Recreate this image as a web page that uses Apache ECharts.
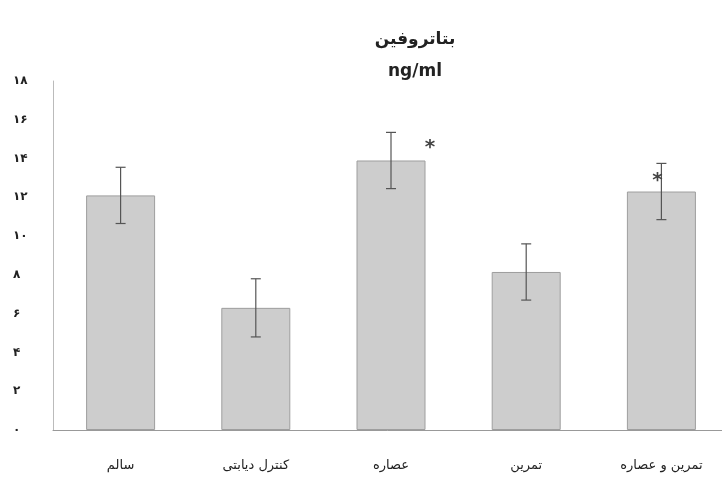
<!DOCTYPE html>
<html>
<head>
<meta charset="utf-8">
<script src="https://cdn.jsdelivr.net/npm/echarts@6/dist/echarts.min.js"></script>
<style>
  html, body { margin: 0; padding: 0; background: #fff; }
  #main { width: 722px; height: 479px; }
</style>
</head>
<body>
<div id="main"></div>
<script>
const categories = ['سالم', 'کنترل دیابتی', 'عصاره', 'تمرین', 'تمرین و عصاره'];
const means = [12.1, 6.3, 13.9, 8.15, 12.3];
const errors = [1.45, 1.5, 1.45, 1.45, 1.45];
const stars = [null, null, 14.7, null, 13.0];
const yTicks = [0, 2, 4, 6, 8, 10, 12, 14, 16, 18];

const faDigits = '۰۱۲۳۴۵۶۷۸۹';
const toFa = n => String(n).replace(/\d/g, d => faDigits[d]);

const chart = echarts.init(document.getElementById('main'));
const font = 'DejaVu Sans';

const errData = means.map((m, i) => [i, m - errors[i], m + errors[i]]);
const starData = stars.map((s, i) => [i, s]).filter(d => d[1] !== null);

chart.setOption({
  animation: false,
  title: {
    text: 'بتاتروفین\nng/ml',
    left: 410,
    textAlign: 'center',
    top: 19,
    textStyle: { fontFamily: font, fontSize: 17, fontWeight: 'bold', color: '#222', lineHeight: 32 }
  },
  grid: { left: 53, width: 676, top: 81, bottom: 49, outerBoundsMode: 'none' },
  xAxis: {
    type: 'category',
    data: categories,
    axisLine: { lineStyle: { color: '#999', width: 1 } },
    axisTick: { show: false },
    axisLabel: { fontFamily: font, fontSize: 13, color: '#222', margin: 29 }
  },
  yAxis: {
    type: 'value',
    min: yTicks[0],
    max: yTicks[yTicks.length - 1],
    interval: 2,
    splitLine: { show: false },
    axisLine: { show: true, lineStyle: { color: '#bbb', width: 1 } },
    axisTick: { show: false },
    axisLabel: { fontFamily: font, fontSize: 12, fontWeight: 'bold', color: '#222', margin: 40, align: 'left',
      formatter: v => toFa(v) }
  },
  series: [
    {
      type: 'bar',
      data: means,
      barWidth: 69,
      itemStyle: { color: '#cdcdcd', borderColor: '#9e9e9e', borderWidth: 1 }
    },
    {
      type: 'custom',
      data: errData,
      z: 5,
      renderItem: (params, api) => {
        const x = api.value(0);
        const lo = api.coord([x, api.value(1)]);
        const hi = api.coord([x, api.value(2)]);
        const cap = 5;
        const style = { stroke: '#555', lineWidth: 1.2 };
        return {
          type: 'group',
          children: [
            { type: 'line', shape: { x1: hi[0], y1: hi[1], x2: lo[0], y2: lo[1] }, style },
            { type: 'line', shape: { x1: hi[0] - cap, y1: hi[1], x2: hi[0] + cap, y2: hi[1] }, style },
            { type: 'line', shape: { x1: lo[0] - cap, y1: lo[1], x2: lo[0] + cap, y2: lo[1] }, style }
          ]
        };
      }
    },
    {
      type: 'custom',
      data: starData,
      z: 6,
      renderItem: (params, api) => {
        const idx = api.value(0);
        const p = api.coord([idx, api.value(1)]);
        const dx = idx === 2 ? 39 : -4;
        return {
          type: 'text',
          style: { x: p[0] + dx, y: p[1] + 3, text: '*', fontSize: 20, fontWeight: 'bold', fontFamily: font, fill: '#444',
            textAlign: 'center', textVerticalAlign: 'middle' }
        };
      }
    }
  ]
});
</script>
</body>
</html>
